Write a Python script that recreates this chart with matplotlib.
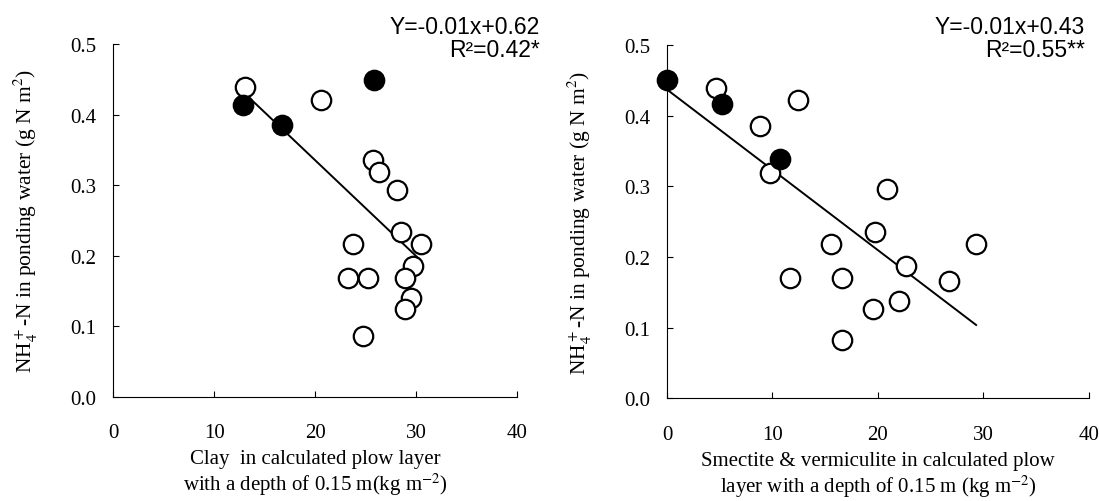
import numpy as np
import matplotlib.pyplot as plt

plt.rcParams['font.family'] = ['Liberation Serif', 'DejaVu Serif']
plt.rcParams['mathtext.fontset'] = 'stix'

# left panel: clay
clay_open_x = [13.0, 20.6, 25.7, 26.3, 28.1, 28.5, 30.5, 23.7, 29.7, 23.2, 25.2, 28.9, 29.5, 28.9, 24.7]
clay_open_y = [0.439, 0.421, 0.336, 0.319, 0.293, 0.234, 0.217, 0.217, 0.185, 0.168, 0.168, 0.168, 0.140, 0.125, 0.086]
clay_fill_x = [12.8, 16.7, 25.8]
clay_fill_y = [0.413, 0.385, 0.449]
clay_fit_x = [13.3, 30.3]
clay_fit_y = [0.426, 0.195]

# right panel: smectite & vermiculite
sv_open_x = [4.6, 12.4, 8.8, 9.8, 20.9, 19.7, 15.5, 29.3, 22.7, 11.7, 16.6, 26.7, 22.0, 19.5, 16.6]
sv_open_y = [0.439, 0.422, 0.385, 0.319, 0.296, 0.235, 0.218, 0.218, 0.187, 0.170, 0.170, 0.166, 0.138, 0.127, 0.083]
sv_fill_x = [0.0, 5.2, 10.7]
sv_fill_y = [0.450, 0.416, 0.339]
sv_fit_x = [0.0, 29.3]
sv_fit_y = [0.437, 0.104]

ylab = r'NH$_4^+$-N in ponding water (g N m$^2$)'
xlabs = ['Clay  in calculated plow layer\nwith a depth of 0.15 m(kg m$^{-2}$)',
         'Smectite & vermiculite in calculated plow\nlayer with a depth of 0.15 m (kg m$^{-2}$)']
eqs = ['Y=-0.01x+0.62\nR\u00b2=0.42*', 'Y=-0.01x+0.43\nR\u00b2=0.55**']

fig = plt.figure(figsize=(10.99, 5.02), dpi=100)
ax1 = fig.add_axes([0.1031, 0.2078, 0.3676, 0.7026])
ax2 = fig.add_axes([0.6069, 0.2042, 0.3840, 0.7042])

panels = [
    (ax1, clay_open_x, clay_open_y, clay_fill_x, clay_fill_y, clay_fit_x, clay_fit_y),
    (ax2, sv_open_x, sv_open_y, sv_fill_x, sv_fill_y, sv_fit_x, sv_fit_y),
]

for i, (ax, ox, oy, fx, fy, lx, ly) in enumerate(panels):
    ax.plot(lx, ly, color='black', lw=1.4, zorder=2)
    ax.plot(ox, oy, 'o', ms=14, mfc='white', mec='black', mew=1.6, zorder=3, clip_on=False)
    ax.plot(fx, fy, 'o', ms=14, mfc='black', mec='black', mew=1.6, zorder=4, clip_on=False)
    ax.set_xlim(0, 40)
    ax.set_ylim(0, 0.5)
    ax.set_xticks([0, 10, 20, 30, 40])
    ax.set_yticks([0.0, 0.1, 0.2, 0.3, 0.4, 0.5])
    ax.set_yticklabels(['0.0', '0.1', '0.2', '0.3', '0.4', '0.5'])
    ax.spines['top'].set_visible(False)
    ax.spines['right'].set_visible(False)
    ax.tick_params(axis='x', direction='in', length=4, pad=19, labelsize=15)
    ax.tick_params(axis='y', direction='in', length=4, pad=12, labelsize=15)
    ax.set_ylabel(ylab, fontsize=15.5, labelpad=22)
    ax.set_xlabel(xlabs[i], fontsize=15, labelpad=5, linespacing=1.12)
    ax.patch.set_visible(False)

fig.text(0.4914, 0.968, eqs[0], ha='right', va='top', fontsize=16.5,
         family='Liberation Sans', multialignment='right', linespacing=1.0)
fig.text(0.9873, 0.968, eqs[1], ha='right', va='top', fontsize=16.5,
         family='Liberation Sans', multialignment='right', linespacing=1.0)

plt.savefig('out.png', dpi=100)
